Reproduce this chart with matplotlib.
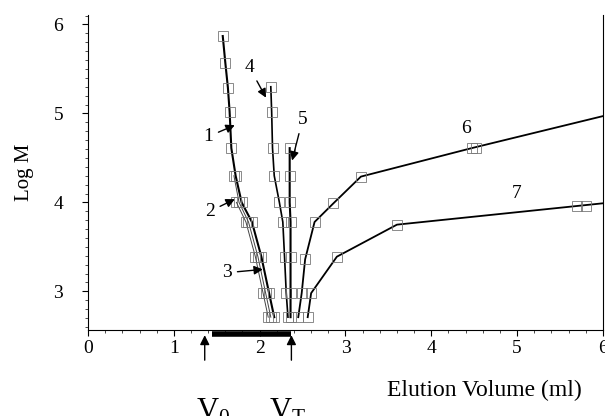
import numpy as np
import matplotlib
matplotlib.use('Agg')
import matplotlib.pyplot as plt
import matplotlib.transforms as mtransforms
from matplotlib.ticker import MultipleLocator

plt.rcParams['font.family'] = 'Liberation Serif'
plt.rcParams['mathtext.fontset'] = 'custom'
plt.rcParams['mathtext.rm'] = 'Liberation Serif'

# log M of the standards
logm = [5.87, 5.57, 5.29, 5.02, 4.61, 4.30, 4.00, 3.78, 3.39, 2.98, 2.71]

# elution volumes (ml) for each column
x1 = [1.57, 1.60, 1.63, 1.65, 1.67, 1.72, 1.79, 1.91, 2.02, 2.11, 2.17]
x2 = [1.70, 1.76, 1.87, 1.98, 2.07, 2.13]
x3 = [1.73, 1.84, 1.95, 2.04, 2.10]
x4 = [2.13, 2.14, 2.15, 2.17, 2.23, 2.27, 2.29, 2.31, 2.33]
y4 = [5.30, 5.02, 4.61, 4.30, 4.00, 3.78, 3.39, 2.98, 2.71]
x5 = [2.35, 2.35, 2.35, 2.36, 2.36, 2.36, 2.36]
y5 = [4.61, 4.30, 4.00, 3.78, 3.39, 2.98, 2.71]
x6 = [2.45, 2.49, 2.53, 2.64, 2.86, 3.18, 4.47, 6.0]
y6 = [2.71, 2.98, 3.36, 3.78, 3.99, 4.29, 4.61, 4.97]
x7 = [2.56, 2.60, 2.90, 3.60, 5.70, 6.0]
y7 = [2.71, 2.98, 3.39, 3.75, 3.96, 3.99]

v0 = 1.36
vt = 2.37
bar_start = 1.44

fig = plt.figure(figsize=(6.05, 4.16), dpi=100)
ax = fig.add_axes([0.1455, 0.207, 0.851, 0.757])

mk = dict(marker='s', markersize=6.5, markerfacecolor='none',
          markeredgecolor='#777777', markeredgewidth=0.6)

ax.plot(x1, logm, color='k', lw=1.5, **mk)
ax.plot(x2, logm[5:], color='#444444', lw=0.7, **mk)
ax.plot(x3, logm[6:], color='#444444', lw=0.7, **mk)
ax.plot(x4, y4, color='k', lw=1.2, **mk)
ax.plot(x5, y5, color='k', lw=1.5, **mk)
ax.plot(x6, y6, color='k', lw=1.3, markevery=list(range(len(x6) - 1)), **mk)
ax.plot(x7, y7, color='k', lw=1.3, markevery=list(range(len(x7) - 1)), **mk)
# duplicate points at the high end
ax.plot([4.52, 5.80], [4.61, 3.96], ls='none', **mk)

ax.set_xlim(0, 6)
ax.set_ylim(2.567, 6.107)
ax.set_xticks([0, 1, 2, 3, 4, 5, 6])
ax.set_yticks([3, 4, 5, 6])
ax.xaxis.set_minor_locator(MultipleLocator(0.2))
ax.yaxis.set_minor_locator(MultipleLocator(0.1))
ax.tick_params(which='major', length=4, width=0.8, labelsize=14, direction='out')
ax.tick_params(which='minor', length=2, width=0.5, direction='out')
ax.tick_params(axis='y', pad=14)
ax.spines['top'].set_visible(False)
ax.set_ylabel('Log M', fontsize=15, labelpad=14)

ap = dict(arrowstyle='-|>', color='k', lw=1.0, mutation_scale=13)
fs = 14
ax.annotate('1', xy=(1.74, 4.88), xytext=(1.40, 4.74), fontsize=fs,
            ha='center', va='center', arrowprops=ap)
ax.annotate('2', xy=(1.74, 4.05), xytext=(1.42, 3.90), fontsize=fs,
            ha='center', va='center', arrowprops=ap)
ax.annotate('3', xy=(2.07, 3.25), xytext=(1.62, 3.21), fontsize=fs,
            ha='center', va='center', arrowprops=ap)
ax.annotate('4', xy=(2.09, 5.15), xytext=(1.88, 5.52), fontsize=fs,
            ha='center', va='center', arrowprops=ap)
ax.annotate('5', xy=(2.37, 4.44), xytext=(2.50, 4.93), fontsize=fs,
            ha='center', va='center', arrowprops=ap)
ax.text(4.41, 4.83, '6', fontsize=fs, ha='center', va='center')
ax.text(4.99, 4.10, '7', fontsize=fs, ha='center', va='center')

# void / total volume markers below the axis
trans = mtransforms.blended_transform_factory(ax.transData, ax.transAxes)
ax.plot([bar_start, vt], [-0.013, -0.013], color='k', lw=4,
        transform=trans, clip_on=False, solid_capstyle='butt')
ap2 = dict(arrowstyle='-|>', color='k', lw=1.0, mutation_scale=14)
for v in (v0, vt):
    ax.annotate('', xy=(v, -0.008), xytext=(v, -0.105), xycoords=trans,
                textcoords=trans, arrowprops=ap2, annotation_clip=False)
ax.text(v0 + 0.1, -0.26, r'$\mathrm{V_0}$', transform=trans, fontsize=22,
        ha='center', va='center')
ax.text(vt - 0.05, -0.26, r'$\mathrm{V_T}$', transform=trans, fontsize=22,
        ha='center', va='center')
fig.text(0.8, 0.062, 'Elution Volume (ml)', fontsize=17, ha='center', va='center')

fig.savefig('out.png', dpi=100)
